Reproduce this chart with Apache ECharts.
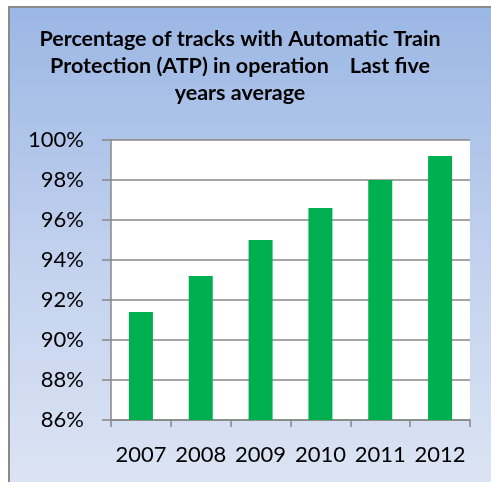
<!DOCTYPE html>
<html>
<head>
<meta charset="utf-8">
<script src="https://cdn.jsdelivr.net/npm/echarts@6/dist/echarts.min.js"></script>
<style>
  html, body { margin: 0; padding: 0; background: #fff; }
  #wrap { position: relative; width: 491px; height: 482px; overflow: hidden; }
  #frame {
    position: absolute; left: 8px; top: 6px; width: 500px; height: 500px;
    border: 2px solid #8a8a8a;
    background: linear-gradient(to bottom, #9bb7e4 0%, #c2d1ee 50%, #dfe6f4 100%);
  }
  #chart { position: absolute; left: 0; top: 0; width: 491px; height: 482px; }
</style>
</head>
<body>
<div id="wrap">
  <div id="frame"></div>
  <div id="chart"></div>
</div>
<script>
// years and ATP share (percent)
var years = ['2007', '2008', '2009', '2010', '2011', '2012'];
var atpShare = [91.4, 93.2, 95.0, 96.6, 98.0, 99.2];
var yMin = 86, yMax = 100, yStep = 2;

var chart = echarts.init(document.getElementById('chart'));
var option = {
  backgroundColor: 'transparent',
  animation: false,
  title: {
    text: 'Percentage of tracks with Automatic Train\nProtection (ATP) in operation    Last five\nyears average',
    left: 235,
    top: 21,
    textAlign: 'center',
    textStyle: {
      fontFamily: 'Lato',
      fontWeight: 'bold',
      fontSize: 21.5,
      lineHeight: 27,
      color: '#000'
    }
  },
  grid: {
    left: 111,
    right: 21,
    top: 140,
    bottom: 62,
    show: true,
    backgroundColor: '#fff',
    borderWidth: 0
  },
  xAxis: {
    type: 'category',
    data: years,
    axisLine: { lineStyle: { color: '#878787', width: 1.5 } },
    axisTick: { show: true, length: 7, lineStyle: { color: '#878787', width: 1.5 } },
    axisLabel: { interval: 0, fontFamily: 'Lato', fontSize: 22, color: '#000', margin: 24 }
  },
  yAxis: {
    type: 'value',
    min: yMin,
    max: yMax,
    interval: yStep,
    axisLine: { show: true, lineStyle: { color: '#878787', width: 1.5 } },
    axisTick: { show: true, length: 9, lineStyle: { color: '#878787', width: 1.5 } },
    splitLine: { lineStyle: { color: '#878787', width: 1.5 } },
    axisLabel: {
      fontFamily: 'Lato', fontSize: 22, color: '#000', margin: 27,
      formatter: function (v) { return v + '%'; }
    }
  },
  series: [{
    type: 'bar',
    data: atpShare,
    barWidth: 24,
    itemStyle: { color: '#00b050' }
  }]
};
chart.setOption(option);
</script>
</body>
</html>
